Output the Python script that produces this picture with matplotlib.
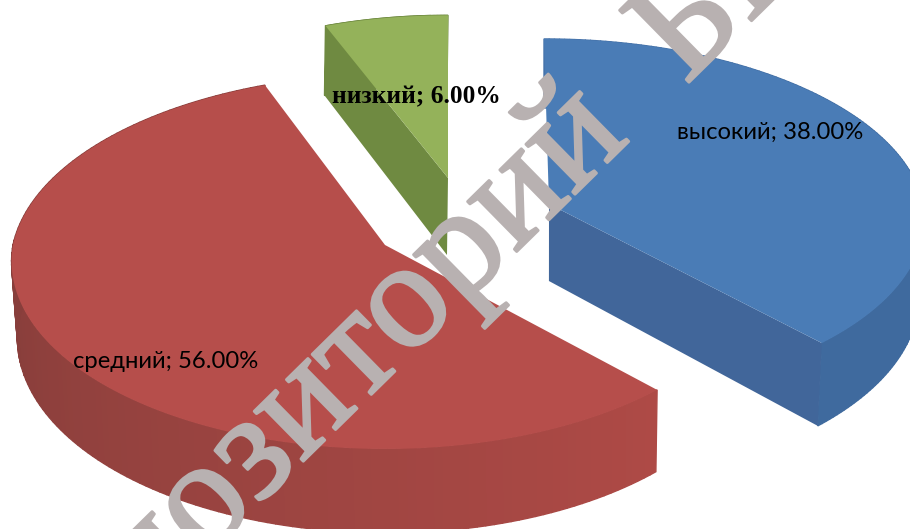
import numpy as np
from matplotlib import pyplot as plt
from matplotlib.colors import to_rgb
import matplotlib.patheffects as pe

categories = ['высокий', 'средний', 'низкий']
shares = [38.0, 56.0, 6.0]

top_colors = ['#4a7cb6', '#b64e4b', '#94b25a']
cut_colors = ['#41669a', '#8f403e', '#6f8a41']
rim_start = ['#4673aa', '#ae4a46', '#6f8a41']
rim_end = ['#3f6a9e', '#883e3b', '#6f8a41']

# per slice: apex, radii, perspective, thickness, lean of the back edge, skew of the side
apex = [(549, 204), (385, 245), (448, 178)]
radius_x = [374, 372, 360]
radius_y = [179, 186, 177]
persp = [0.0845, 0.088, 0.088]
thick = [77, 76, 77]
lean = [-5, 7, 0]
side_a = [8.0, 6.0, -1.0]
side_b = [-0.0147, -0.011, 0.0]

# which end of the arc has a visible flat cut (None: hidden behind the top)
visible_cut = [-1, None, 0]

label_pos = [(770, 132), (166, 362), (416.5, 97)]


def project(i, theta):
    u, v = np.sin(theta), np.cos(theta)
    w = 1 + persp[i] * v
    x = apex[i][0] + radius_x[i] * u / w + lean[i] * np.maximum(v, 0)
    y = apex[i][1] - radius_y[i] * v / w
    return x, y, v


def drop(i, x, y, v):
    # lower outline of the disc under the given top points
    return x + side_a[i] + side_b[i] * x, y + thick[i] - 8 * v


fig = plt.figure(figsize=(9.10, 5.29), dpi=100)
ax = fig.add_axes([0, 0, 1, 1])
ax.set_xlim(0, 910)
ax.set_ylim(529, 0)
ax.axis('off')

edges = np.radians(np.concatenate([[0], np.cumsum(shares)]) * 3.6)

for i in [2, 0, 1]:
    theta = np.linspace(edges[i], edges[i + 1], 161)
    x, y, v = project(i, theta)
    bx, by = drop(i, x, y, v)
    ax0, ay0 = apex[i]
    bax, bay = drop(i, np.float64(ax0), np.float64(ay0), 0.0)

    # outer rim, split into narrow strips for the shading
    c0 = np.array(to_rgb(rim_start[i]))
    c1 = np.array(to_rgb(rim_end[i]))
    for j in range(len(theta) - 1):
        t = min(1, j / (len(theta) - 2) * 1.6)
        col = c0 + (c1 - c0) * t
        ax.fill([x[j], x[j + 1], bx[j + 1], bx[j]], [y[j], y[j + 1], by[j + 1], by[j]],
                color=col, lw=1, zorder=2)

    if visible_cut[i] is not None:
        k = visible_cut[i]
        ax.fill([ax0, x[k], bx[k], bax], [ay0, y[k], by[k], bay], color=cut_colors[i], lw=0, zorder=3)

    ax.fill(np.r_[ax0, x], np.r_[ay0, y], color=top_colors[i], lw=0, zorder=4)

ax.text(label_pos[0][0], label_pos[0][1], f'{categories[0]}; {shares[0]:.2f}%', family='Lato',
        fontsize=17.2, ha='center', va='center', color='black', zorder=6)
ax.text(label_pos[1][0], label_pos[1][1], f'{categories[1]}; {shares[1]:.2f}%', family='Lato',
        fontsize=17.2, ha='center', va='center', color='black', zorder=6)
ax.text(label_pos[2][0], label_pos[2][1], f'{categories[2]}; {shares[2]:.2f}%', family='Liberation Serif',
        fontweight='bold', fontsize=18.3, ha='center', va='center', color='black', zorder=6)

# diagonal stamp across the whole chart, thickened with a stroke
stamp = ax.text(38, 722, 'Репозиторий  БГПУ', family='Liberation Serif', fontsize=110, rotation=44.5,
                rotation_mode='anchor', ha='left', va='baseline', color='#b8b1b1', zorder=5)
stamp.set_path_effects([pe.withStroke(linewidth=2, foreground='#b8b1b1')])

fig.savefig('out.png', dpi=100)
